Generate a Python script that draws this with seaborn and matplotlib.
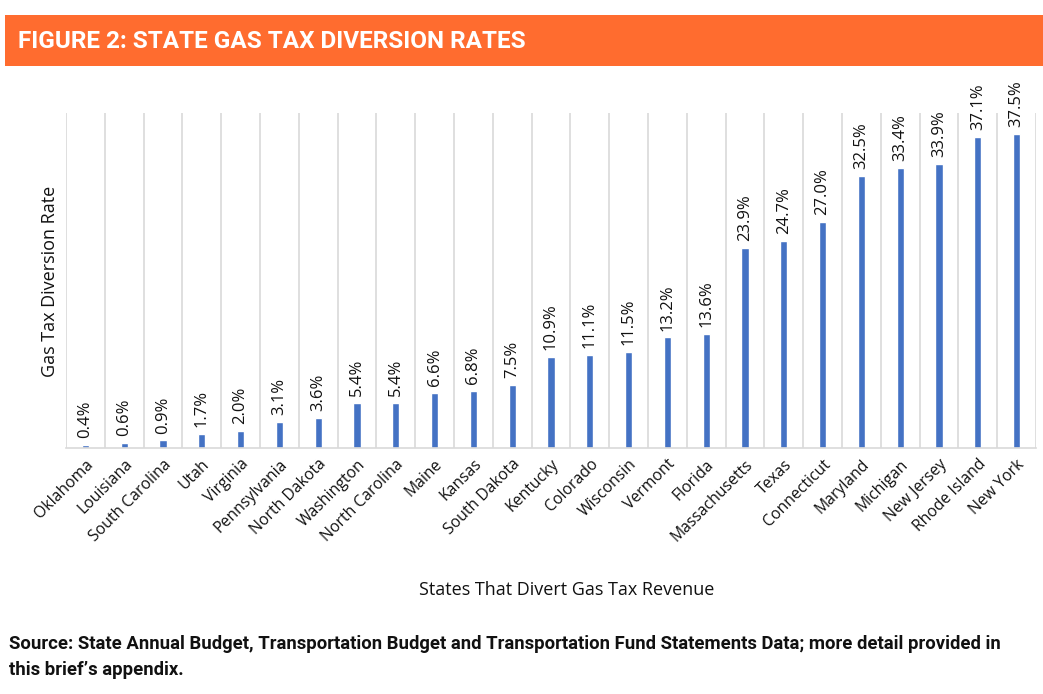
import matplotlib
matplotlib.use("Agg")
import matplotlib.pyplot as plt
import seaborn as sns
import pandas as pd
from matplotlib.patches import Rectangle

states = ["Oklahoma", "Louisiana", "South Carolina", "Utah", "Virginia", "Pennsylvania",
          "North Dakota", "Washington", "North Carolina", "Maine", "Kansas", "South Dakota",
          "Kentucky", "Colorado", "Wisconsin", "Vermont", "Florida", "Massachusetts",
          "Texas", "Connecticut", "Maryland", "Michigan", "New Jersey", "Rhode Island", "New York"]
rates = [0.4, 0.6, 0.9, 1.7, 2.0, 3.1, 3.6, 5.4, 5.4, 6.6, 6.8, 7.5, 10.9, 11.1, 11.5,
         13.2, 13.6, 23.9, 24.7, 27.0, 32.5, 33.4, 33.9, 37.1, 37.5]

title = "FIGURE 2: STATE GAS TAX DIVERSION RATES"
xlabel = "States That Divert Gas Tax Revenue"
ylabel = "Gas Tax Diversion Rate"
source = ("Source: State Annual Budget, Transportation Budget and Transportation Fund Statements Data; more detail provided in\n"
          "this brief\u2019s appendix.")

df = pd.DataFrame({"state": states, "rate": rates})

sns.set_theme(style="white")
plt.rcParams['font.family'] = ['Open Sans', 'DejaVu Sans']

W, H = 1043, 694
fig = plt.figure(figsize=(W / 100, H / 100), dpi=100)
ax = fig.add_axes([66 / W, 1 - 448 / H, (1036 - 66) / W, (448 - 113) / H])

sns.barplot(data=df, x="state", y="rate", color="#4472C4", width=0.19, ax=ax, saturation=1)

ax.set_ylim(0, 40)
ax.set_xlim(-0.5, len(states) - 0.5)
ax.set_yticks([])
for i in range(len(states) + 1):
    ax.axvline(i - 0.5, color="#D9D9D9", lw=1.2, zorder=0)
for s in ["top", "right", "left"]:
    ax.spines[s].set_visible(False)
ax.spines["bottom"].set_color("#D9D9D9")
ax.spines["bottom"].set_linewidth(1.2)

for i, v in enumerate(rates):
    ax.annotate(f"{v:.1f}%", (i, v), xytext=(0, 5), textcoords="offset points",
                rotation=90, ha="center", va="bottom", fontsize=12, color="#111111",
                annotation_clip=False)

ax.set_xticks(range(len(states)))
ax.set_xticklabels(states, rotation=45, ha="right", rotation_mode="anchor",
                   fontsize=11.3, color="#111111")
ax.tick_params(axis="x", length=0, pad=6)
ax.set_xlabel("")
ax.set_ylabel("")

fig.text(567 / W, 1 - 590 / H, xlabel, ha="center", va="center", fontsize=13, color="#111111")
fig.text(50 / W, 1 - 281 / H, ylabel, ha="center", va="center", rotation=90, fontsize=13,
         color="#111111")

# banner
fig.patches.append(Rectangle((5 / W, 1 - 66 / H), (1043 - 5) / W, 51 / H,
                             transform=fig.transFigure, facecolor="#FF6C2F", edgecolor="none"))
fig.text(18 / W, 1 - 41 / H, title, ha="left", va="center", fontsize=17.5, fontweight="bold",
         color="white", family=["Roboto", "DejaVu Sans"])

fig.text(9 / W, 1 - 657 / H, source, ha="left", va="center", fontsize=13.3, fontweight="bold",
         color="#111111", linespacing=1.6, family=["Roboto", "DejaVu Sans"])

fig.savefig("out.png", dpi=100)
